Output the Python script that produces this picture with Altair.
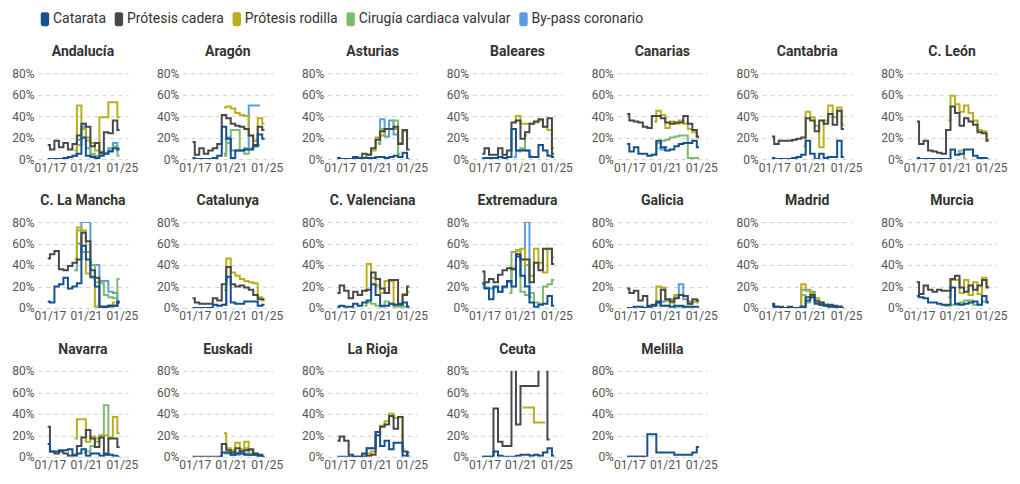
import altair as alt
import pandas as pd

N = None

# x positions (decimal years) of the semiannual observations
periods = [2016.75, 2017.25, 2017.75, 2018.25, 2018.75, 2019.25, 2019.75, 2020.25,
           2020.75, 2021.25, 2021.75, 2022.25, 2022.75, 2023.25, 2023.75, 2024.25, 2024.75]

series = ["Catarata", "Prótesis cadera", "Prótesis rodilla",
          "Cirugía cardiaca valvular", "By-pass coronario"]
colors = ["#15508f", "#484848", "#b8b01c", "#7cbb70", "#5a9be3"]

# each region: rows in series order (Catarata, cadera, rodilla, cirugía, by-pass), % values
andalucia = [
    [0, 0, 0, 0, 1, 2, 3, 5, 20, 3, 2, 1, 3, 5, 7, 10, 9],
    [13, 9, 17, 11, 15, 9, 14, 22, 33, 30, 12, 15, 6, 25, 24, 36, 27],
    [N, N, N, N, N, N, 5, 50, 33, 17, 15, 8, 39, 39, 53, 53, 39],
    [N, N, N, N, N, N, 8, 13, 28, 20, 5, 3, 7, 5, 8, 12, 3],
    [N, N, N, N, N, N, 3, 18, 30, 10, 3, 2, 5, 6, 10, 15, 10],
]
aragon = [
    [1, 0, 0, 0, 0, 1, 3, 30, 19, 1, 8, 8, 9, 9, 12, 23, 19],
    [16, 4, 10, 5, 8, 10, 14, 41, 38, 33, 31, 30, 28, 22, 13, 30, 27],
    [N, N, N, N, N, N, N, 48, 49, 47, 43, 41, 40, 22, 17, 38, 33],
    [N, N, N, N, N, N, N, 3, 15, 27, 27, 8, 5, 10, 13, 13, N],
    [N, N, N, N, N, N, N, 5, 20, 8, 8, 8, 10, 50, 50, 50, N],
]
asturias = [
    [1, 0, 0, 0, 1, 1, 1, 1, 1, 2, 2, 1, 2, 3, 2, 6, 0],
    [1, 0, 0, 0, 2, 1, 5, 4, 10, 18, 26, 28, 28, 30, 14, 27, 9],
    [N, N, N, N, N, N, 2, 4, 8, 20, 22, 28, 28, 28, 15, 26, 9],
    [N, N, N, N, N, N, N, N, N, 14, 28, 28, 28, 36, 5, N, N],
    [N, N, N, N, N, N, N, N, N, 15, 37, 21, 36, 23, 2, N, N],
]
baleares = [
    [1, 1, 1, 1, 2, 1, 2, 28, 8, 8, 8, 2, 2, 13, 8, 3, 2],
    [5, 10, 4, 4, 10, 4, 8, 34, 36, 19, 25, 33, 35, 37, 30, 38, 5],
    [N, N, N, N, N, N, N, 35, 40, 33, 33, 33, 34, 36, 30, 27, 10],
    [N, N, N, N, N, N, N, N, 7, 10, 22, N, N, N, N, N, N],
    [N, N, N, N, N, N, N, 2, 8, 9, 8, 3, N, N, N, N, N],
]
canarias = [
    [14, 7, 11, 5, 5, 3, 4, 17, 11, 8, 9, 12, 14, 15, 15, 17, 11],
    [42, 36, 35, 34, 30, 29, 40, 40, 38, 34, 33, 34, 34, 40, 33, 27, 21],
    [N, N, N, N, N, N, 35, 45, 41, 29, 35, 33, 36, 33, 28, 25, 20],
    [N, N, N, N, N, N, 5, 15, 17, 18, 20, 21, 22, 22, 1, 1, 1],
    [N, N, N, N, N, N, N, 10, 9, 11, N, N, N, N, N, N, N],
]
cantabria = [
    [1, 0, 0, 0, 0, 1, 2, 4, 17, 5, 0, 5, 1, 2, 2, 17, 2],
    [21, 14, 17, 17, 17, 18, 19, 20, 38, 36, 26, 36, 33, 42, 32, 45, 28],
    [N, N, N, N, N, N, N, 12, 44, 39, 31, 11, 36, 50, 39, 48, 32],
    [N] * 17,
    [N] * 17,
]
cleon = [
    [1, 0, 0, 0, 0, 0, 0, 0, 9, 4, 5, 9, 9, 3, 1, 1, 0],
    [35, 14, 17, 8, 7, 6, 5, 27, 49, 43, 31, 38, 35, 32, 25, 24, 17],
    [N, N, N, N, N, N, N, 36, 59, 51, 44, 50, 43, 36, 27, 26, 18],
    [N, N, N, N, N, N, N, N, N, 7, 8, 0, N, N, N, N, N],
    [N] * 17,
]
clamancha = [
    [6, 5, 20, 22, 28, 18, 20, 23, 58, 45, 29, 20, 1, 1, 2, 2, 6],
    [46, 50, 53, 36, 35, 39, 42, 45, 70, 62, 35, 28, 1, 1, 2, 2, 5],
    [N, N, N, N, N, N, 46, 75, 72, 32, 28, 1, 1, 1, 1, 5, N],
    [N, N, N, N, N, N, 35, 72, 52, 52, 40, 24, 23, 12, 10, 9, 27],
    [N, N, N, N, N, N, 35, 60, 80, 80, 40, 40, 25, 25, 15, 14, 5],
]
catalunya = [
    [0, 0, 0, 0, 0, 3, 2, 3, 29, 5, 4, 4, 6, 6, 6, 2, 3],
    [9, 5, 4, 4, 4, 9, 7, 22, 38, 22, 20, 21, 19, 17, 12, 8, 8],
    [N, N, N, N, N, N, N, 17, 46, 33, 30, 27, 25, 24, 23, 10, 7],
    [N] * 17,
    [N, N, N, N, N, N, N, 3, 28, N, N, N, N, N, N, N, N],
]
cvalenciana = [
    [1, 2, 1, 1, 4, 2, 5, 7, 22, 12, 2, 2, 4, 3, 3, 5, 1],
    [14, 21, 16, 9, 15, 12, 16, 17, 33, 27, 18, 14, 26, 26, 4, 12, 20],
    [N, N, N, N, N, N, 16, 41, 28, 21, 14, 25, 25, 3, 3, 13, 15],
    [N, N, N, N, N, N, 2, 5, 4, 2, 1, 6, 4, 1, 1, 1, 1],
    [N] * 17,
]
extremadura = [
    [23, 18, 8, 20, 15, 20, 25, 20, 48, 30, 20, 5, 1, 3, 4, 11, 2],
    [34, 24, 27, 24, 31, 35, 37, 36, 50, 45, 45, 24, 42, 35, 55, 55, 41],
    [N, N, N, N, N, N, 38, 37, 53, 55, 40, 30, 55, 42, 33, 55, 47],
    [N, N, N, N, N, N, 14, 52, 54, 15, 12, 14, 5, 4, 20, 22, 26],
    [22, 19, 18, 19, 15, 19, 24, 36, 50, 30, 80, 10, N, N, N, N, N],
]
galicia = [
    [0, 0, 1, 1, 0, 1, 2, 5, 2, 2, 1, 2, 2, 1, 1, 1, 1],
    [18, 14, 16, 7, 11, 2, 3, 6, 17, 8, 6, 9, 12, 11, 4, 8, 7],
    [N, N, N, N, N, N, 2, 20, 19, 7, 5, 12, 12, 11, 4, 6, 5],
    [N, N, N, N, N, N, N, 2, 2, 2, 5, 1, 1, 1, 1, 1, N],
    [N, N, N, N, N, N, N, 4, 6, 7, 8, 10, 22, 8, 6, 5, N],
]
madrid = [
    [2, 1, 0, 0, 0, 0, 0, 1, 7, 10, 4, 3, 2, 1, 1, 0, 0],
    [4, 1, 1, 0, 1, 0, 0, 1, 10, 12, 6, 5, 3, 3, 2, 1, 0],
    [N, N, N, N, N, N, 1, 22, 16, 14, 8, 3, 2, 2, 1, 1, 0],
    [N, N, N, N, N, N, 1, 12, 5, 10, 9, 5, 3, 2, 1, 1, 0],
    [N, N, N, N, N, N, 1, 17, 17, 15, 7, 4, 3, 2, 1, 1, 0],
]
murcia = [
    [11, 10, 9, 5, 5, 4, 3, 3, 19, 4, 3, 4, 5, 6, 3, 11, 5],
    [24, 13, 21, 17, 15, 17, 16, 16, 27, 30, 19, 15, 21, 17, 21, 26, 19],
    [N, N, N, N, N, N, N, 10, 26, 26, 14, 26, 12, 24, 13, 28, 20],
    [N, N, N, N, N, N, 2, 2, 3, 3, 5, 7, 7, 3, 3, 6, 6],
    [N] * 17,
]
navarra = [
    [12, 5, 5, 6, 6, 7, 2, 3, 7, 1, 3, 3, 1, 3, 2, 1, 0],
    [28, 5, 3, 5, 3, 1, 1, 10, 18, 25, 17, 9, 18, 2, 17, 17, 9],
    [N, N, N, N, N, N, 17, 35, 35, 14, 19, 14, 19, 20, 18, 37, 22],
    [N, N, N, N, N, N, N, N, 4, 5, 10, 17, 20, 48, 17, N, N],
    [N] * 17,
]
euskadi = [
    [N, N, N, N, N, N, 0, 4, 4, 2, 3, 3, 2, 2, 2, 1, 0],
    [0, 0, 0, 0, 0, 0, 0, 12, 6, 4, 8, 5, 6, 7, 3, 2, 0],
    [N, N, N, N, N, N, N, 22, 8, 6, 13, 7, 14, 6, 3, 2, N],
    [N, N, N, N, N, N, N, 3, 3, 5, 4, 6, 8, 3, 2, 1, 0],
    [N, N, N, N, N, N, N, N, 3, 2, 2, 3, 3, 2, 2, 1, N],
]
larioja = [
    [0, 0, 0, 0, 0, 0, 0, 8, 8, 23, 10, 15, 7, 13, 13, 1, 4],
    [15, 19, 15, 2, 0, 0, 3, 1, 2, 20, 28, 30, 38, 26, 37, 5, 1],
    [N, N, N, N, N, 0, 2, 3, 5, 23, 29, 33, 40, 36, 37, 7, N],
    [N] * 17,
    [N, N, N, N, N, N, 3, 8, 8, N, N, N, N, N, N, N, N],
]
ceuta = [
    [0, 0, 0, 5, 1, 0, 0, 0, 1, 2, 2, 1, 2, 1, 4, 8, 1],
    [0, 0, 0, 45, 14, 10, 10, 90, 30, 66, 66, 66, 66, 90, 90, 16, N],
    [N, N, N, N, N, N, N, N, N, 46, 46, 46, 32, 32, 32, N, N],
    [N] * 17,
    [N] * 17,
]
melilla = [
    [0, 0, 0, 0, 0, 21, 21, 4, 4, 4, 4, 2, 2, 2, 2, 4, 9],
    [0, 0, 0, 0, 0, N, N, N, N, N, N, N, N, N, N, N, N],
    [N] * 17,
    [N] * 17,
    [N] * 17,
]

regions = [
    ("Andalucía", andalucia), ("Aragón", aragon), ("Asturias", asturias),
    ("Baleares", baleares), ("Canarias", canarias), ("Cantabria", cantabria),
    ("C. León", cleon), ("C. La Mancha", clamancha), ("Catalunya", catalunya),
    ("C. Valenciana", cvalenciana), ("Extremadura", extremadura), ("Galicia", galicia),
    ("Madrid", madrid), ("Murcia", murcia), ("Navarra", navarra), ("Euskadi", euskadi),
    ("La Rioja", larioja), ("Ceuta", ceuta), ("Melilla", melilla),
]
region_names = [r[0] for r in regions]

rows = []
for name, block in regions:
    # draw Catarata last so it sits on top
    for k in [4, 3, 2, 1, 0]:
        for p, v in zip(periods, block[k]):
            if v is not None:
                rows.append({"region": name, "serie": series[k], "t": p, "v": v})
df = pd.DataFrame(rows)

FONT = "Roboto"
rrect = ("M-0.3,-1 L0.3,-1 A0.3,0.3 0 0 1 0.6,-0.7 L0.6,0.7 A0.3,0.3 0 0 1 0.3,1 "
         "L-0.3,1 A0.3,0.3 0 0 1 -0.6,0.7 L-0.6,-0.7 A0.3,0.3 0 0 1 -0.3,-1 Z")

xenc = alt.X("t:Q",
             scale=alt.Scale(domain=[2015.67, 2025.67], nice=False, zero=False),
             axis=alt.Axis(values=[2017, 2021, 2025],
                           labelExpr="'01/' + substring(toString(datum.value), 2, 4)",
                           grid=False, ticks=False, domain=False, title=None,
                           labelFontSize=12, labelColor="#555", labelFont=FONT,
                           labelPadding=3))
yenc = alt.Y("v:Q",
             scale=alt.Scale(domain=[0, 80], nice=False),
             axis=alt.Axis(values=[0, 20, 40, 60, 80], labelExpr="datum.value + '%'",
                           gridDash=[4, 4], gridColor="#cfcfcf", gridWidth=1,
                           ticks=False, domain=False, title=None,
                           labelFontSize=12, labelColor="#555", labelFont=FONT,
                           labelPadding=4))
cscale = alt.Scale(domain=series, range=colors)
legend_def = alt.Legend(title=None, orient="top", direction="horizontal",
                        symbolType=rrect, symbolSize=196,
                        symbolStrokeWidth=0, symbolOpacity=1,
                        labelFontSize=14, labelFont=FONT, labelColor="#333",
                        labelOffset=1, columnPadding=5, gridAlign="none", offset=19)

# empty layer that only supplies filled legend symbols
keys = alt.Chart().transform_filter("datum.v < 0").mark_point(
    filled=True, shape=rrect, size=196, opacity=1, strokeWidth=0
).encode(
    x=xenc, y=yenc,
    color=alt.Color("serie:N", scale=cscale, legend=legend_def),
)

lines = alt.Chart().mark_line(interpolate="step", strokeWidth=2, clip=True).encode(
    x=xenc, y=yenc,
    color=alt.Color("serie:N", scale=cscale),
)

base = alt.layer(keys, lines, data=df).properties(width=90, height=86)

chart = base.facet(
    facet=alt.Facet("region:N", sort=region_names,
                    header=alt.Header(title=None, labelFontSize=14, labelFontWeight="bold",
                                      labelColor="#333", labelFont=FONT, labelPadding=8)),
    columns=7,
    spacing={"row": 21, "column": 18},
).resolve_axis(x="independent", y="independent").configure(
    font=FONT
).configure_view(
    stroke=None
).properties(padding={"left": 3, "top": 4, "right": 5, "bottom": 2})

chart.save("out.html", embed_options={"renderer": "svg", "actions": False})
